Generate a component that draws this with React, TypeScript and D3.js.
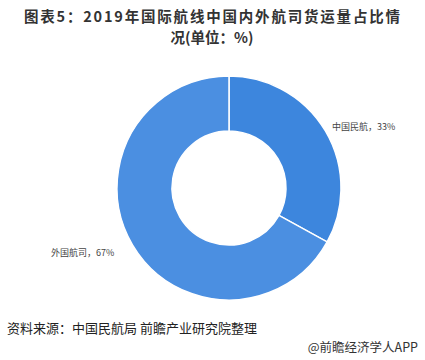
import * as d3 from "d3";
import { useEffect, useRef } from "react";

const categories = ["中国民航", "外国航司"];
const shares = [33, 67];
const colors = ["#3d86dd", "#4b8fe1"];
const titleLines = ["图表5：2019年国际航线中国内外航司货运量占比情", "况(单位：%)"];

export default function App() {
  const ref = useRef<SVGSVGElement>(null);

  useEffect(() => {
    const svg = d3.select(ref.current);
    svg.selectAll("*").remove();

    const width = 425,
      height = 360,
      cx = 229,
      cy = 188,
      outer = 112,
      inner = 57;

    const font = "'Noto Sans CJK SC', 'Noto Sans', sans-serif";

    svg.append("rect").attr("width", width).attr("height", height).attr("fill", "#fff");

    // Title, two lines
    svg
      .selectAll("text.title")
      .data(titleLines)
      .join("text")
      .attr("class", "title")
      .attr("x", 212)
      .attr("y", (d, i) => 22 + i * 21)
      .attr("text-anchor", "middle")
      .attr("font-family", font)
      .attr("font-weight", "bold")
      .attr("font-size", 14.5)
      .attr("textLength", (d, i) => (i === 0 ? 376 : null))
      .attr("fill", "#333")
      .text((d) => d);

    // Donut
    const pie = d3
      .pie<number>()
      .sort(null)
      .value((d) => d);
    const arc = d3.arc<d3.PieArcDatum<number>>().innerRadius(inner).outerRadius(outer);

    const g = svg.append("g").attr("transform", `translate(${cx},${cy})`);
    g.selectAll("path")
      .data(pie(shares))
      .join("path")
      .attr("d", arc)
      .attr("fill", (d, i) => colors[i])
      .attr("stroke", "#fff")
      .attr("stroke-width", 1.5);

    // Labels
    const labelPos = [
      { x: 332, y: 130 },
      { x: 51, y: 256 },
    ];
    svg
      .selectAll("text.lbl")
      .data(categories)
      .join("text")
      .attr("class", "lbl")
      .attr("x", (d, i) => labelPos[i].x)
      .attr("y", (d, i) => labelPos[i].y)
      .attr("font-family", font)
      .attr("font-size", 9)
      .attr("fill", "#444")
      .text((d, i) => `${d}，${shares[i]}%`);

    // Footer
    svg
      .append("text")
      .attr("x", 7)
      .attr("y", 333)
      .attr("font-family", font)
      .attr("font-size", 13)
      .attr("fill", "#222")
      .text("资料来源：中国民航局 前瞻产业研究院整理");

    svg
      .append("text")
      .attr("x", 418)
      .attr("y", 352)
      .attr("text-anchor", "end")
      .attr("font-family", font)
      .attr("font-size", 12.5)
      .attr("fill", "#333")
      .text("@前瞻经济学人APP");
  }, []);

  return (
    <svg
      ref={ref}
      width={425}
      height={360}
      style={{ position: "absolute", left: 0, top: 0 }}
    ></svg>
  );
}
